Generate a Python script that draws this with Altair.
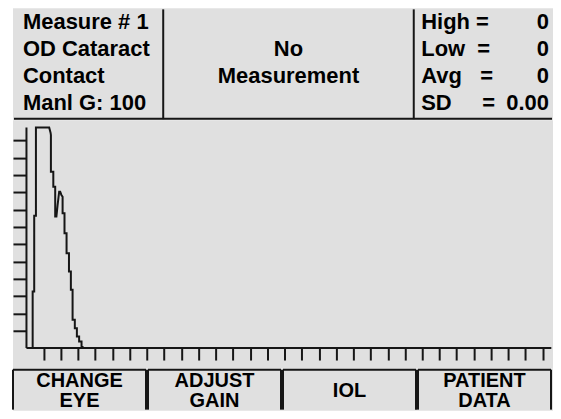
import altair as alt
import pandas as pd

# ---------------- data ----------------
info_lines = ["Measure # 1", "OD Cataract", "Contact", "Manl G: 100"]
info_rows = [0, 1, 2, 3]
status_lines = ["No", "Measurement"]
status_rows = [1, 2]
stat_labels = ["High\u00a0=", "Low\u00a0\u00a0=", "Avg\u00a0\u00a0\u00a0=", "SD\u00a0\u00a0\u00a0\u00a0\u00a0="]
stat_values = ["0", "0", "0", "0.00"]
stat_rows = [0, 1, 2, 3]
button_labels = ["CHANGE\nEYE", "ADJUST\nGAIN", "IOL", "PATIENT\nDATA"]
button_ids = [0, 1, 2, 3]

x_ticks = list(range(1, 31))
y_ticks = list(range(1, 13))
x_end = 30.5
y_top = 12.75

scan_x = [0.36, 0.36, 0.45, 0.45, 0.55, 0.55, 1.32, 1.40, 1.42, 1.42, 1.56, 1.56,
          1.67, 1.67, 1.74, 1.81, 1.90, 1.96, 2.03, 2.10, 2.10, 2.21, 2.21, 2.33,
          2.33, 2.47, 2.47, 2.58, 2.58, 2.68, 2.68, 2.81, 2.81, 2.93, 2.93, 3.06,
          3.06, 3.20, 3.20, 3.35]
scan_y = [0.00, 3.27, 3.27, 7.65, 7.65, 12.75, 12.75, 12.45, 12.31, 10.19, 10.19, 9.33,
          9.33, 7.60, 7.60, 8.27, 9.04, 9.04, 8.85, 8.75, 7.79, 7.79, 6.63, 6.63,
          5.48, 5.48, 4.42, 4.42, 3.37, 3.37, 1.63, 1.63, 1.15, 1.15, 0.67, 0.67,
          0.38, 0.38, 0.10, 0.00]

GREY = "#e0e0e0"
INK = "#161616"
FONT = "Liberation Sans"
W = 541

# ---------------- header ----------------
row_scale = alt.Scale(domain=[0, 3], range=[21, 102])
one = pd.DataFrame({"k": [0]})

info_df = pd.DataFrame({"t": info_lines, "row": info_rows})
status_df = pd.DataFrame({"t": status_lines, "row": status_rows})
stat_df = pd.DataFrame({"t": stat_labels, "v": stat_values, "row": stat_rows})

txt = dict(font=FONT, fontSize=22, fontWeight="bold", color="black", baseline="alphabetic")

h_info = alt.Chart(info_df).mark_text(align="left", **txt).encode(
    x=alt.value(10), y=alt.Y("row:Q", scale=row_scale, axis=None), text="t:N")
h_status = alt.Chart(status_df).mark_text(align="center", **txt).encode(
    x=alt.value(276), y=alt.Y("row:Q", scale=row_scale, axis=None), text="t:N")
h_lab = alt.Chart(stat_df).mark_text(align="left", **txt).encode(
    x=alt.value(409), y=alt.Y("row:Q", scale=row_scale, axis=None), text="t:N")
h_val = alt.Chart(stat_df).mark_text(align="right", **txt).encode(
    x=alt.value(537), y=alt.Y("row:Q", scale=row_scale, axis=None), text="v:N")

div1 = alt.Chart(one).mark_rule(color=INK, strokeWidth=2).encode(
    x=alt.value(150.5), y=alt.value(1), y2=alt.value(111))
div2 = alt.Chart(one).mark_rule(color=INK, strokeWidth=2).encode(
    x=alt.value(401.5), y=alt.value(1), y2=alt.value(111))
hline = alt.Chart(one).mark_rule(color=INK, strokeWidth=2).encode(
    x=alt.value(1), x2=alt.value(W - 1), y=alt.value(110.5))

header = alt.layer(h_info, h_status, h_lab, h_val, div1, div2, hline).properties(
    width=W, height=112)

# ---------------- A-scan plot ----------------
PH = 249
scan = pd.DataFrame({"x": scan_x, "y": scan_y, "i": list(range(len(scan_x)))})
frame = pd.DataFrame({"x0": [0, 0], "x1": [0, x_end], "y0": [0, 0], "y1": [y_top, 0]})

xs = alt.Scale(domain=[-0.783, 30.598], nice=False, zero=False)
ys = alt.Scale(domain=[-1.194, 13.174], nice=False, zero=False)
xaxis = alt.Axis(values=x_ticks, labels=False, domain=False, grid=False, ticks=True,
                 tickSize=12, tickWidth=2, tickColor=INK, offset=-20.7, title=None,
                 orient="bottom", minExtent=0)
yaxis = alt.Axis(values=y_ticks, labels=False, domain=False, grid=False, ticks=True,
                 tickSize=13.5, tickWidth=2, tickColor=INK, offset=-13.5, title=None,
                 orient="left", minExtent=0)

trace = alt.Chart(scan).mark_line(color=INK, strokeWidth=2).encode(
    x=alt.X("x:Q", scale=xs, axis=xaxis),
    y=alt.Y("y:Q", scale=ys, axis=yaxis),
    order="i:Q")
axes_lines = alt.Chart(frame).mark_rule(color=INK, strokeWidth=2).encode(
    x=alt.X("x0:Q", scale=xs, axis=xaxis), x2="x1:Q",
    y=alt.Y("y0:Q", scale=ys, axis=yaxis), y2="y1:Q")

plot = alt.layer(axes_lines, trace).properties(width=W, height=PH)

# ---------------- soft-key buttons ----------------
BH = 42
btn_df = pd.DataFrame({
    "k": button_ids,
    "label": button_labels,
    "nlines": [lab.count("\n") + 1 for lab in button_labels],
})
bscale = alt.Scale(paddingInner=0.01479, paddingOuter=0.0074, align=0)

tops = alt.Chart(btn_df).mark_rect(color=INK).encode(
    x=alt.X("k:N", scale=bscale, axis=None), y=alt.value(0), y2=alt.value(2))
lefts = alt.Chart(btn_df).mark_rule(color=INK, strokeWidth=2).encode(
    x=alt.X("k:N", scale=bscale, axis=None, bandPosition=0),
    y=alt.value(1), y2=alt.value(BH - 1))
rights = alt.Chart(btn_df).mark_rule(color=INK, strokeWidth=2).encode(
    x=alt.X("k:N", scale=bscale, axis=None, bandPosition=1),
    y=alt.value(1), y2=alt.value(BH - 1))

btxt = dict(font=FONT, fontSize=20, fontWeight="bold", color="black", lineBreak="\n",
            lineHeight=20, baseline="middle", align="center")
blabels2 = alt.Chart(btn_df).transform_filter("datum.nlines == 2").mark_text(**btxt).encode(
    x=alt.X("k:N", scale=bscale, axis=None, bandPosition=0.5),
    y=alt.value(12), text="label:N")
blabels1 = alt.Chart(btn_df).transform_filter("datum.nlines == 1").mark_text(**btxt).encode(
    x=alt.X("k:N", scale=bscale, axis=None, bandPosition=0.5),
    y=alt.value(22), text="label:N")

buttons = alt.layer(tops, lefts, rights, blabels2, blabels1).properties(width=W, height=BH)

chart = alt.vconcat(header, plot, buttons, spacing=0).properties(
    padding={"left": 4, "top": 0, "right": 0, "bottom": 0},
    background="white",
).configure_view(fill=GREY, strokeWidth=0)

chart.save("out.html", embed_options={"renderer": "svg", "actions": False})
